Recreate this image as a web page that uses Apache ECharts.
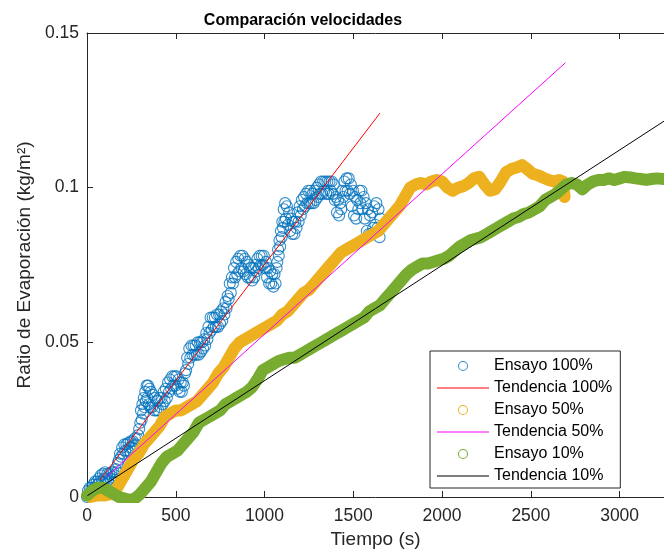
<!DOCTYPE html>
<html>
<head>
<meta charset="utf-8">
<title>Comparación velocidades</title>
<script src="https://cdn.jsdelivr.net/npm/echarts@6/dist/echarts.min.js"></script>
<style>
  html, body { margin: 0; padding: 0; background: #fff; }
  #chart { width: 664px; height: 554px; }
</style>
</head>
<body>
<div id="chart"></div>
<script>
// valores: [tiempo (s), ratio (kg/m2)]
const ensayo100 = [
  [0, 0.000], [5, 0.002], [10, 0.001], [15, 0.003], [20, 0.0015], [25, 0.003], [30, 0.002], [35, 0.004],
  [40, 0.003], [45, 0.005], [50, 0.003], [55, 0.005], [60, 0.004], [66, 0.006], [72, 0.005], [78, 0.007],
  [84, 0.005], [90, 0.0075], [96, 0.006], [102, 0.008], [108, 0.006], [114, 0.0075], [120, 0.0055], [126, 0.0075],
  [132, 0.006], [138, 0.008], [144, 0.0065], [150, 0.008], [156, 0.007], [162, 0.009], [168, 0.008], [174, 0.011],
  [180, 0.012], [186, 0.014], [192, 0.013], [198, 0.016], [204, 0.014], [210, 0.017], [216, 0.015], [222, 0.017],
  [228, 0.015], [234, 0.0175], [240, 0.016], [246, 0.018], [252, 0.016], [258, 0.018], [264, 0.0165], [270, 0.019],
  [276, 0.017], [282, 0.019], [288, 0.020], [294, 0.022], [300, 0.024], [304, 0.028], [308, 0.025], [312, 0.030],
  [316, 0.027], [320, 0.032], [324, 0.029], [328, 0.034], [332, 0.031], [336, 0.036], [340, 0.032], [344, 0.036],
  [348, 0.030], [352, 0.035], [356, 0.029], [360, 0.034], [366, 0.029], [372, 0.033], [378, 0.028], [384, 0.032],
  [390, 0.028], [396, 0.031], [402, 0.028], [408, 0.032], [414, 0.029], [420, 0.032], [426, 0.030], [432, 0.034],
  [438, 0.031], [444, 0.035], [450, 0.032], [456, 0.037], [462, 0.034], [468, 0.038], [474, 0.035], [480, 0.039],
  [486, 0.036], [492, 0.039], [498, 0.036], [504, 0.039], [510, 0.035], [516, 0.038], [522, 0.034], [528, 0.037],
  [534, 0.034], [540, 0.037], [546, 0.036], [552, 0.040], [558, 0.041], [564, 0.045], [570, 0.043], [576, 0.048],
  [582, 0.045], [588, 0.049], [594, 0.046], [600, 0.049], [606, 0.046], [612, 0.049], [618, 0.046], [624, 0.050],
  [630, 0.046], [636, 0.050], [642, 0.047], [648, 0.050], [654, 0.048], [660, 0.051], [666, 0.049], [672, 0.053],
  [678, 0.051], [684, 0.055], [690, 0.053], [696, 0.058], [702, 0.054], [708, 0.058], [714, 0.055], [720, 0.058],
  [726, 0.055], [732, 0.059], [738, 0.055], [744, 0.059], [750, 0.056], [756, 0.060], [762, 0.057], [768, 0.061],
  [774, 0.059], [780, 0.063], [786, 0.061], [792, 0.065], [798, 0.064], [804, 0.069], [810, 0.066], [816, 0.071],
  [822, 0.069], [828, 0.074], [834, 0.071], [840, 0.076], [846, 0.072], [852, 0.077], [858, 0.073], [864, 0.078],
  [870, 0.074], [876, 0.078], [882, 0.073], [888, 0.077], [894, 0.072], [900, 0.076], [906, 0.071], [912, 0.075],
  [918, 0.071], [924, 0.074], [930, 0.070], [936, 0.074], [942, 0.071], [948, 0.075], [954, 0.073], [960, 0.077],
  [966, 0.074], [972, 0.078], [978, 0.075], [984, 0.078], [990, 0.075], [996, 0.078], [1002, 0.074], [1008, 0.076],
  [1014, 0.071], [1020, 0.074], [1026, 0.069], [1032, 0.073], [1038, 0.069], [1044, 0.072], [1050, 0.068], [1056, 0.072],
  [1062, 0.069], [1068, 0.074], [1072, 0.076], [1076, 0.080], [1080, 0.078], [1084, 0.083], [1088, 0.081], [1092, 0.086],
  [1096, 0.084], [1100, 0.089], [1104, 0.087], [1108, 0.093], [1112, 0.089], [1116, 0.095], [1120, 0.090], [1126, 0.094],
  [1132, 0.088], [1138, 0.092], [1144, 0.086], [1150, 0.090], [1156, 0.085], [1162, 0.089], [1168, 0.085], [1174, 0.089],
  [1180, 0.087], [1186, 0.092], [1192, 0.089], [1198, 0.094], [1204, 0.091], [1210, 0.096], [1216, 0.093], [1222, 0.097],
  [1228, 0.094], [1234, 0.098], [1240, 0.095], [1246, 0.099], [1252, 0.095], [1258, 0.099], [1264, 0.095], [1270, 0.098],
  [1276, 0.095], [1282, 0.099], [1288, 0.096], [1294, 0.100], [1300, 0.097], [1306, 0.101], [1312, 0.098], [1318, 0.102],
  [1324, 0.098], [1330, 0.102], [1336, 0.099], [1342, 0.102], [1348, 0.098], [1354, 0.102], [1360, 0.098], [1366, 0.102],
  [1372, 0.099], [1378, 0.102], [1384, 0.098], [1390, 0.101], [1396, 0.096], [1402, 0.097], [1408, 0.092], [1414, 0.096],
  [1420, 0.091], [1426, 0.095], [1432, 0.093], [1438, 0.099], [1444, 0.097], [1450, 0.102], [1456, 0.099], [1462, 0.103],
  [1468, 0.099], [1474, 0.103], [1480, 0.098], [1486, 0.101], [1492, 0.094], [1498, 0.099], [1504, 0.091], [1510, 0.097],
  [1516, 0.090], [1522, 0.096], [1528, 0.093], [1534, 0.099], [1540, 0.095], [1546, 0.099], [1552, 0.093], [1558, 0.097],
  [1564, 0.090], [1570, 0.095], [1576, 0.086], [1582, 0.093], [1588, 0.085], [1594, 0.091], [1600, 0.085], [1606, 0.092],
  [1612, 0.087], [1618, 0.094], [1624, 0.088], [1630, 0.095], [1636, 0.087], [1642, 0.093], [1648, 0.084], [1652, 0.090]
];

const ensayo50 = [
  [20, 0.000], [60, 0.0005], [100, 0.0005], [140, 0.001], [170, 0.003], [200, 0.006],
  [230, 0.009], [260, 0.012], [290, 0.014], [320, 0.017], [350, 0.019], [380, 0.021],
  [410, 0.023], [440, 0.026], [470, 0.027], [500, 0.028], [530, 0.028], [560, 0.029],
  [590, 0.030], [620, 0.031], [650, 0.033], [680, 0.035], [710, 0.037], [740, 0.040],
  [770, 0.042], [800, 0.045], [830, 0.048], [860, 0.050], [890, 0.051], [920, 0.052],
  [950, 0.053], [980, 0.054], [1010, 0.055], [1040, 0.056], [1070, 0.057], [1100, 0.059],
  [1130, 0.060], [1160, 0.062], [1190, 0.064], [1220, 0.066], [1250, 0.067], [1280, 0.069],
  [1310, 0.071], [1340, 0.073], [1370, 0.075], [1400, 0.077], [1430, 0.079], [1460, 0.080],
  [1490, 0.081], [1520, 0.082], [1550, 0.083], [1580, 0.084], [1610, 0.085], [1640, 0.086],
  [1670, 0.088], [1700, 0.090], [1730, 0.092], [1760, 0.094], [1790, 0.097], [1820, 0.100],
  [1850, 0.101], [1880, 0.1015], [1910, 0.101], [1940, 0.102], [1970, 0.1025], [2000, 0.102],
  [2030, 0.100], [2060, 0.099], [2090, 0.100], [2120, 0.1005], [2150, 0.1015], [2180, 0.103],
  [2210, 0.1035], [2240, 0.101], [2270, 0.099], [2300, 0.0995], [2330, 0.102], [2360, 0.105],
  [2390, 0.106], [2420, 0.1065], [2450, 0.1073], [2480, 0.106], [2510, 0.1045], [2540, 0.104],
  [2570, 0.1032], [2600, 0.1025], [2630, 0.102], [2660, 0.1025], [2680, 0.102], [2690, 0.097]
];

const ensayo10 = [
  [0, 0.0005], [30, 0.002], [60, 0.003], [90, 0.003], [120, 0.002], [150, 0.001],
  [180, 0.000], [210, -0.0005], [240, -0.001], [270, -0.0005], [300, 0.001], [330, 0.003],
  [360, 0.005], [390, 0.008], [420, 0.011], [450, 0.013], [480, 0.014], [510, 0.015],
  [540, 0.017], [570, 0.019], [600, 0.021], [630, 0.024], [660, 0.025], [690, 0.026],
  [720, 0.027], [750, 0.028], [780, 0.030], [810, 0.031], [840, 0.032], [870, 0.033],
  [900, 0.034], [930, 0.0355], [960, 0.038], [990, 0.041], [1020, 0.042], [1050, 0.043],
  [1080, 0.044], [1110, 0.0445], [1140, 0.045], [1170, 0.045], [1200, 0.046], [1230, 0.047],
  [1260, 0.048], [1290, 0.049], [1320, 0.050], [1350, 0.051], [1380, 0.052], [1410, 0.053],
  [1440, 0.054], [1470, 0.055], [1500, 0.056], [1530, 0.057], [1560, 0.058], [1590, 0.060],
  [1620, 0.061], [1650, 0.062], [1680, 0.064], [1710, 0.066], [1740, 0.068], [1770, 0.070],
  [1800, 0.072], [1830, 0.0735], [1860, 0.0745], [1890, 0.0755], [1920, 0.0755], [1950, 0.076],
  [1980, 0.0765], [2010, 0.077], [2040, 0.078], [2070, 0.0795], [2100, 0.081], [2130, 0.082],
  [2160, 0.083], [2190, 0.0835], [2220, 0.084], [2250, 0.085], [2280, 0.086], [2310, 0.087],
  [2340, 0.088], [2370, 0.089], [2400, 0.090], [2430, 0.0905], [2460, 0.0915], [2490, 0.092],
  [2520, 0.093], [2550, 0.094], [2580, 0.096], [2610, 0.097], [2640, 0.098], [2670, 0.0995],
  [2700, 0.101], [2730, 0.1015], [2760, 0.101], [2790, 0.0995], [2820, 0.101], [2850, 0.102],
  [2880, 0.1025], [2910, 0.1025], [2940, 0.103], [2970, 0.1025], [3000, 0.103], [3030, 0.1035],
  [3060, 0.1033], [3090, 0.103], [3120, 0.1028], [3150, 0.1025], [3180, 0.1028], [3210, 0.103],
  [3250, 0.1028]
];

// rectas de tendencia (extremos leidos)
const tendencia100 = [[73, 0.0055], [1650, 0.1241]];
const tendencia50 = [[111, 0.0066], [2695, 0.1404]];
const tendencia10 = [[2, 0.0004], [3250, 0.1215]];

const xTicks = [0, 3250, 500];
const yTicks = [0, 0.15, 0.05];

const colores = {
  e100: '#0072BD', t100: '#FF0000',
  e50: '#EDB120', t50: '#FF00FF',
  e10: '#77AC30', t10: '#000000'
};

const fuente = "'Liberation Sans', Arial, Helvetica, sans-serif";
const gris = '#262626';
const anillo = 'path://M5,0A5,5,0,1,1,5,10A5,5,0,1,1,5,0ZM5,1A4,4,0,1,0,5,9A4,4,0,1,0,5,1Z';
const raya = 'path://M0,0L52,0L52,1L0,1Z';

const chart = echarts.init(document.getElementById('chart'), null, { renderer: 'canvas' });

const option = {
  animation: false,
  backgroundColor: '#fff',
  textStyle: { fontFamily: fuente },
  title: {
    text: 'Comparación velocidades',
    left: 298,
    top: 8,
    textAlign: 'center',
    textStyle: { fontFamily: fuente, fontSize: 16, fontWeight: 'bold', color: '#000' }
  },
  grid: { left: 87, top: 33, right: 0, bottom: 57, containLabel: false },
  legend: {
    orient: 'vertical',
    left: 430,
    top: 351,
    padding: [7, 8, 4, 7],
    itemGap: 6,
    itemWidth: 52,
    itemHeight: 10,
    backgroundColor: '#fff',
    borderColor: gris,
    borderWidth: 1,
    borderRadius: 0,
    textStyle: { fontFamily: fuente, fontSize: 16, color: '#000' },
    data: [
      { name: 'Ensayo 100%', icon: anillo, itemStyle: { color: colores.e100, borderWidth: 0 } },
      { name: 'Tendencia 100%', icon: raya, itemStyle: { color: colores.t100, borderWidth: 0 } },
      { name: 'Ensayo 50%', icon: anillo, itemStyle: { color: colores.e50, borderWidth: 0 } },
      { name: 'Tendencia 50%', icon: raya, itemStyle: { color: colores.t50, borderWidth: 0 } },
      { name: 'Ensayo 10%', icon: anillo, itemStyle: { color: colores.e10, borderWidth: 0 } },
      { name: 'Tendencia 10%', icon: raya, itemStyle: { color: colores.t10, borderWidth: 0 } }
    ]
  },
  xAxis: [
    {
      type: 'value',
      position: 'bottom',
      min: xTicks[0],
      max: xTicks[1],
      interval: xTicks[2],
      name: 'Tiempo (s)',
      nameLocation: 'middle',
      nameGap: 27,
      nameTextStyle: { fontFamily: fuente, fontSize: 19, color: gris },
      axisLine: { show: true, lineStyle: { color: gris, width: 1 } },
      axisTick: { show: true, inside: true, length: 6, lineStyle: { color: gris } },
      axisLabel: {
        showMaxLabel: false, margin: 10, fontFamily: fuente, fontSize: 17.5, color: gris,
        formatter: (v) => String(v)
      },
      splitLine: { show: false }
    },
    {
      type: 'value',
      position: 'top',
      min: xTicks[0],
      max: xTicks[1],
      interval: xTicks[2],
      axisLine: { show: true, lineStyle: { color: gris, width: 1 } },
      axisTick: { show: true, inside: true, length: 6, lineStyle: { color: gris } },
      axisLabel: { show: false },
      splitLine: { show: false }
    }
  ],
  yAxis: {
    type: 'value',
    min: yTicks[0],
    max: yTicks[1],
    interval: yTicks[2],
    name: 'Ratio de Evaporación (kg/m²)',
    nameLocation: 'middle',
    nameRotate: 90,
    nameGap: 48,
    nameTextStyle: { fontFamily: fuente, fontSize: 19, color: gris },
    axisLine: { show: true, lineStyle: { color: gris, width: 1 } },
    axisTick: { show: true, inside: true, length: 6, lineStyle: { color: gris } },
    axisLabel: { margin: 8, fontFamily: fuente, fontSize: 17.5, color: gris },
    splitLine: { show: false }
  },
  series: [
    {
      name: 'Ensayo 100%',
      type: 'scatter',
      data: ensayo100,
      symbol: 'circle',
      symbolSize: 11,
      itemStyle: { color: 'rgba(0,0,0,0)', borderColor: colores.e100, borderWidth: 1.1 }
    },
    {
      name: 'Tendencia 100%',
      type: 'line',
      data: tendencia100,
      symbol: 'none',
      itemStyle: { color: colores.t100 },
      lineStyle: { color: colores.t100, width: 1 }
    },
    {
      name: 'Ensayo 50%',
      type: 'line',
      data: ensayo50,
      symbol: 'none',
      itemStyle: { color: colores.e50 },
      lineStyle: { color: colores.e50, width: 12, cap: 'round', join: 'round' }
    },
    {
      name: 'Tendencia 50%',
      type: 'line',
      data: tendencia50,
      symbol: 'none',
      itemStyle: { color: colores.t50 },
      lineStyle: { color: colores.t50, width: 1 }
    },
    {
      name: 'Ensayo 10%',
      type: 'line',
      data: ensayo10,
      symbol: 'none',
      itemStyle: { color: colores.e10 },
      lineStyle: { color: colores.e10, width: 12, cap: 'round', join: 'round' }
    },
    {
      name: 'Tendencia 10%',
      type: 'line',
      data: tendencia10,
      symbol: 'none',
      itemStyle: { color: colores.t10 },
      lineStyle: { color: colores.t10, width: 1 }
    }
  ]
};

chart.setOption(option);
</script>
</body>
</html>
